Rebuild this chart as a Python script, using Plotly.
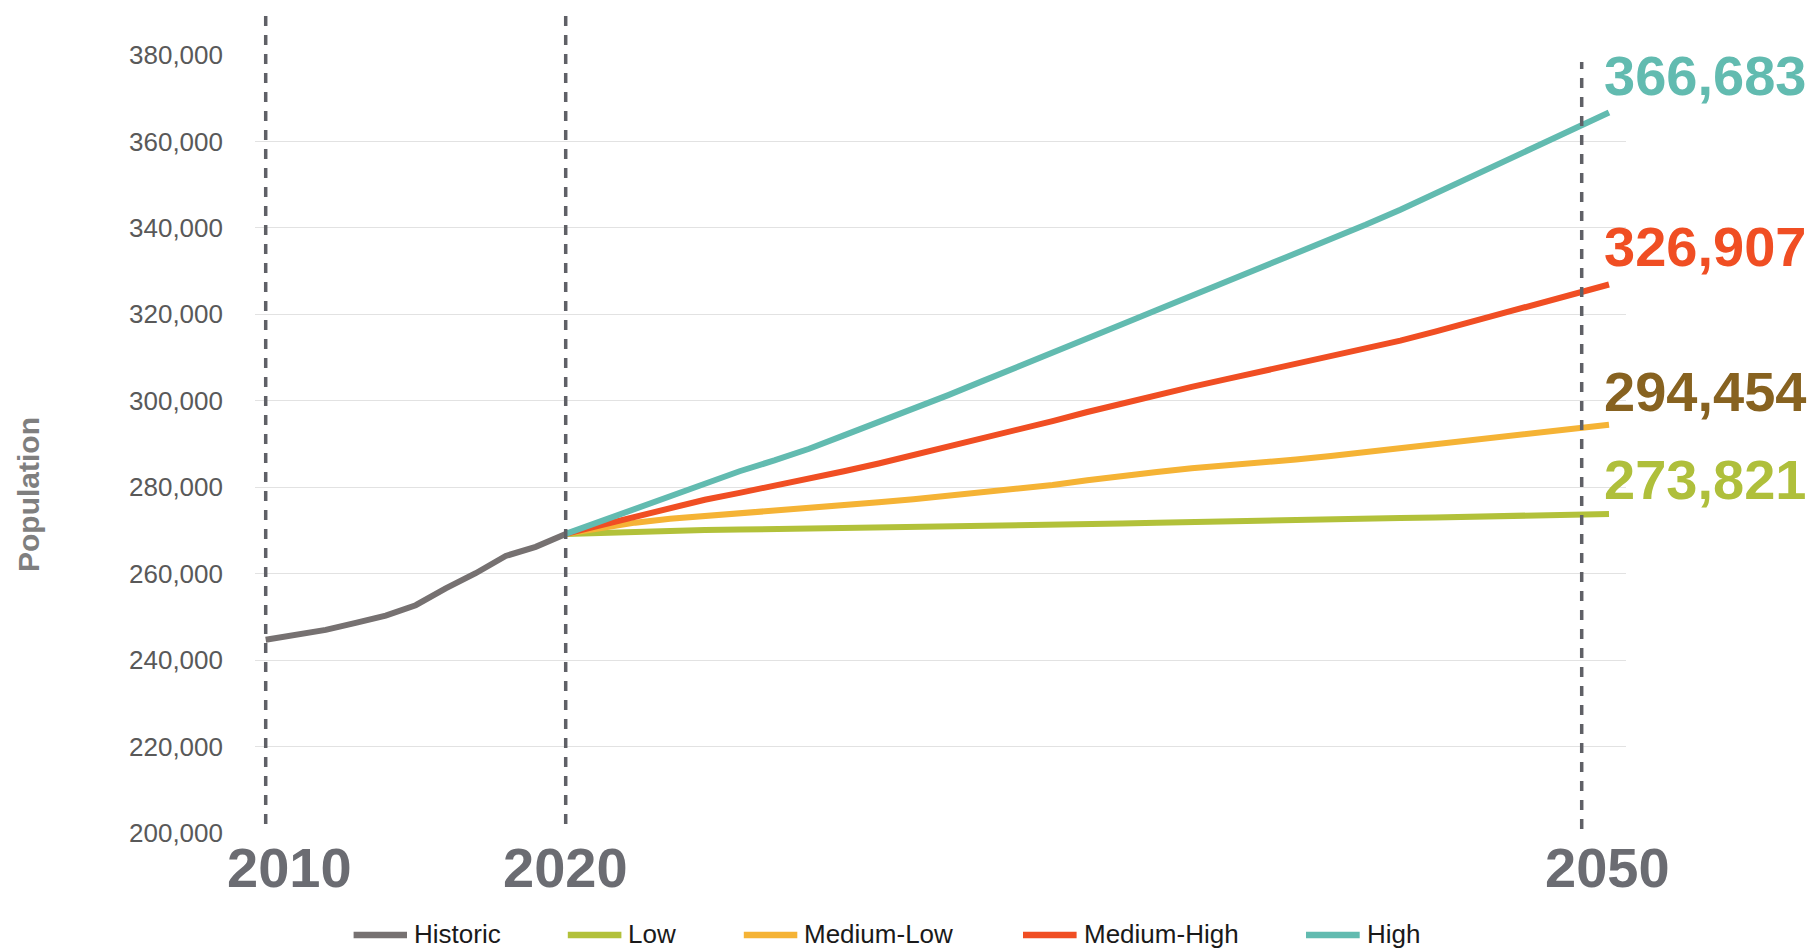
import plotly.graph_objects as go

# ---- data -------------------------------------------------------------
hist_years = list(range(2010, 2021))
historic = [244700, 245800, 247000, 248600, 250300, 252700,
            256600, 260100, 264100, 266200, 269200]

proj_years = list(range(2020, 2051))
low = [269200, 269500, 269800, 270000, 270100, 270200, 270300, 270500,
       270600, 270700, 270800, 270900, 271100, 271200, 271400, 271500,
       271600, 271800, 272000, 272200, 272300, 272500, 272600, 272700,
       272900, 273000, 273200, 273300, 273500, 273600, 273821]
medium_low = [269200, 270600, 271800, 272700, 273300, 273900, 274400,
              275100, 275800, 276500, 277200, 278000, 278700, 279500,
              280500, 281600, 282700, 283500, 284400, 285000, 285700,
              286400, 287200, 288100, 289100, 290000, 291000, 291900,
              292800, 293600, 294454]
medium_high = [269200, 271200, 273300, 275300, 277100, 278700, 280300,
               281900, 283700, 285500, 287400, 289300, 291400, 293200,
               295300, 297400, 299400, 301100, 303200, 305000, 306800,
               308500, 310200, 312000, 313900, 316000, 318200, 320400,
               322600, 324800, 326907]
high = [269200, 272100, 275000, 278000, 280800, 283700, 286200, 288900,
        292000, 295000, 298000, 301300, 304600, 307800, 311100, 314500,
        317700, 321000, 324300, 327500, 330700, 333900, 337200, 340700,
        344200, 347900, 351800, 355400, 359000, 362800, 366683]

series_names = ["Historic", "Low", "Medium-Low", "Medium-High", "High"]
series_colors = ["#767171", "#B2C13A", "#F5B335", "#F04E23", "#62BBB0"]
label_colors = {"Low": "#AFBF3B", "Medium-Low": "#876220",
                "Medium-High": "#F04E23", "High": "#62BBB0"}
y_ticks = list(range(200000, 380001, 20000))
marker_years = ["2010", "2020", "2050"]

# ---- layout geometry (pixels) -----------------------------------------
W, H = 1815, 949
L, R, T, B = 255, 189, 55, 116
PW, PH = W - L - R, H - T - B
FONT = "Liberation Sans, Arial, sans-serif"


def px(xp):
    return (xp - L) / PW


def py(yp):
    return (H - B - yp) / PH


# historic axis: 30 px per year; projection axis: wider spacing
h0 = 2010 - (265.7 - L) / 30.0
h_range = [h0, h0 + PW / 30.0]
k2 = (1609 - 565.7) / 30.0
p0 = 2020 - (565.7 - L) / k2
p_range = [p0, p0 + PW / k2]

fig = go.Figure()
fig.add_trace(go.Scatter(x=hist_years, y=historic, mode="lines",
                         name="Historic", xaxis="x", yaxis="y",
                         line=dict(color=series_colors[0], width=6),
                         showlegend=False))
proj = [("Low", low), ("Medium-Low", medium_low),
        ("Medium-High", medium_high), ("High", high)]
for (name, vals), color in zip(proj, series_colors[1:]):
    fig.add_trace(go.Scatter(x=proj_years, y=vals, mode="lines", name=name,
                             xaxis="x2", yaxis="y",
                             line=dict(color=color, width=6),
                             showlegend=False))

shapes = []
annotations = []

# vertical dashed reference lines
dash_style = dict(color="#5f6066", width=3.5, dash="10px,9px")
for yr in (2010, 2020):
    shapes.append(dict(type="line", xref="x", yref="paper", x0=yr, x1=yr,
                       y0=py(824), y1=py(16), line=dash_style))
shapes.append(dict(type="line", xref="paper", yref="paper",
                   x0=px(1581.7), x1=px(1581.7), y0=py(829), y1=py(62),
                   line=dash_style))

# big year labels under the chart
for txt, cx in zip(marker_years, (289, 565, 1607)):
    annotations.append(dict(text=f"<b>{txt}</b>", xref="paper", yref="paper",
                            x=px(cx), y=py(867), xanchor="center",
                            yanchor="middle", showarrow=False,
                            font=dict(family=FONT, size=56, color="#6b6c72")))

# end-of-line value labels
label_y = {"High": 75, "Medium-High": 246.7, "Medium-Low": 391.7, "Low": 479}
for name, vals in proj:
    annotations.append(dict(text=f"<b>{vals[-1]:,}</b>", xref="paper",
                            yref="paper", x=px(1602), y=py(label_y[name]),
                            xanchor="left", yanchor="middle",
                            showarrow=False,
                            font=dict(family=FONT, size=56,
                                      color=label_colors[name])))

# y-axis title
annotations.append(dict(text="<b>Population</b>", xref="paper", yref="paper",
                        x=px(28), y=py(495), xanchor="center",
                        yanchor="middle", textangle=-90, showarrow=False,
                        font=dict(family=FONT, size=30, color="#7f7f7f")))

# legend drawn beneath the chart
leg_line = [(353.6, 407), (567.8, 621.4), (743.8, 797.3),
            (1023, 1076.6), (1306, 1359.7)]
leg_y = 935
for name, color, (a, b) in zip(series_names, series_colors, leg_line):
    shapes.append(dict(type="line", xref="paper", yref="paper",
                       x0=px(a), x1=px(b), y0=py(leg_y), y1=py(leg_y),
                       line=dict(color=color, width=6.5)))
    annotations.append(dict(text=name, xref="paper", yref="paper",
                            x=px(b + 5), y=py(leg_y - 1), xanchor="left",
                            yanchor="middle", showarrow=False,
                            font=dict(family=FONT, size=26, color="#1a1a1a")))

fig.update_layout(
    width=W, height=H,
    margin=dict(l=L, r=R, t=T, b=B, pad=0),
    paper_bgcolor="white", plot_bgcolor="white",
    showlegend=False,
    xaxis=dict(range=h_range, visible=False, showgrid=False, zeroline=False),
    xaxis2=dict(range=p_range, overlaying="x", visible=False,
                showgrid=False, zeroline=False),
    yaxis=dict(range=[200000, 380000], tickvals=y_ticks, tickformat=",",
               showgrid=True, gridcolor="#e2e2e2", gridwidth=1.3,
               zeroline=False, showline=False, ticks="",
               ticklabelstandoff=31,
               tickfont=dict(family=FONT, size=26, color="#595959")),
    shapes=shapes,
    annotations=annotations,
)

fig.write_html("out.html")
